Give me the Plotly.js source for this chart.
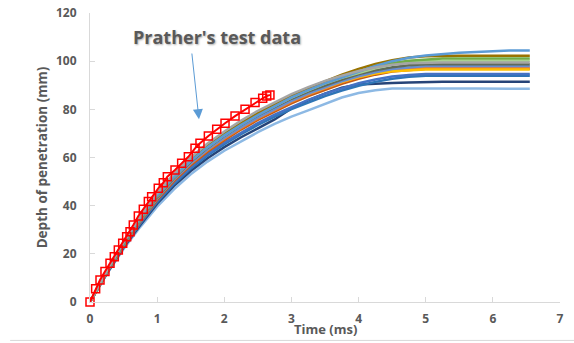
<!DOCTYPE html>
<html>
<head>
<meta charset="utf-8">
<script src="https://cdn.plot.ly/plotly-3.0.1.min.js"></script>
<style>html,body{margin:0;padding:0;background:#fff;}#chart{width:574px;height:343px;}</style>
</head>
<body>
<div id="chart"></div>
<script>
// Time samples (ms) for simulated curves
const simTime = [0, 0.25, 0.5, 0.75, 1, 1.25, 1.5, 1.75, 2, 2.25, 2.5, 2.75, 3, 3.25, 3.5, 3.75, 4, 4.25, 4.5, 4.75, 5, 5.25, 5.5, 5.75, 6, 6.25, 6.55];

// Simulated penetration depth curves (mm)
const simTopBlue   = [0, 12.8, 24.5, 34.8, 44.2, 52, 58.6, 64.3, 69.2, 73.6, 77.6, 81.3, 85, 88, 90.8, 93.2, 95.6, 98, 100, 101.4, 102.4, 103, 103.5, 103.8, 104.2, 104.4, 104.4];
const simDarkGold  = [0, 12.6, 24.2, 34.5, 44, 52, 58.8, 64.6, 69.6, 74.2, 78.3, 82, 85.6, 88.8, 91.7, 94.4, 96.8, 98.8, 100.4, 101.5, 102, 102.3, 102.3, 102.3, 102.3, 102.3, 102.3];
const simGreen     = [0, 12.7, 24.4, 34.8, 44.3, 52.4, 59.3, 65, 69.8, 74.3, 78.4, 82, 85.4, 88.4, 91.2, 93.7, 95.9, 97.7, 99.2, 100.2, 100.8, 101.1, 101.1, 101.1, 101.1, 101.1, 101.1];
const simLightGreen= [0, 12.5, 24, 34.3, 43.8, 51.8, 58.6, 64.3, 69.2, 73.7, 77.8, 81.5, 84.9, 87.9, 90.7, 93.1, 95.2, 97, 98.5, 99.5, 100, 100.2, 100.2, 100.2, 100.2, 100.2, 100.2];
const simGray      = [0, 13, 25, 35.6, 45.2, 53.2, 60, 65.8, 70.8, 75.3, 79.4, 83, 86.3, 89.2, 91.8, 94, 95.9, 97.4, 98.5, 99.1, 99.4, 99.4, 99.4, 99.4, 99.4, 99.4, 99.4];
const simDarkGray  = [0, 12.4, 23.8, 34, 43.4, 51.4, 58.2, 64, 69, 73.5, 77.5, 81.1, 84.4, 87.4, 90, 92.4, 94.5, 96.2, 97.5, 98.3, 98.7, 98.7, 98.7, 98.7, 98.7, 98.7, 98.7];
const simBlueGray  = [0, 12.3, 23.6, 33.7, 43, 50.9, 57.6, 63.3, 68.2, 72.6, 76.6, 80.2, 83.5, 86.5, 89.2, 91.6, 93.7, 95.4, 96.7, 97.5, 98, 98, 98, 98, 98, 98, 98];
const simGold      = [0, 12.5, 24, 34.2, 43.6, 51.5, 58.2, 63.8, 68.6, 73, 76.9, 80.4, 83.6, 86.5, 89.1, 91.4, 93.4, 94.9, 95.8, 96.3, 96.5, 96.5, 96.5, 96.5, 96.5, 96.5, 96.5];
const simOrange    = [0, 12.4, 23.8, 33.8, 43, 50.8, 57.4, 63, 67.8, 72.2, 76.2, 79.8, 83.1, 86.1, 88.8, 91.2, 93.3, 95, 96.3, 97, 97.4, 97.4, 97.4, 97.4, 97.4, 97.4, 97.4];
const simDarkOrange= [0, 12.2, 23.4, 33.3, 42.4, 50.2, 56.8, 62.4, 67.2, 71.6, 75.6, 79.2, 82.5, 85.5, 88.2, 90.6, 92.7, 94.4, 95.7, 96.4, 96.8, 96.8, 96.8, 96.8, 96.8, 96.8, 96.8];
const simBlue      = [0, 12.2, 23.3, 33, 42, 49.6, 56, 61.5, 66.2, 70.4, 74.3, 77.8, 81, 83.9, 86.5, 88.8, 90.8, 92.4, 93.6, 94.3, 94.7, 94.7, 94.7, 94.7, 94.7, 94.7, 94.7];
const simMidBlue   = [0, 12, 23, 32.6, 41.5, 49, 55.4, 60.8, 65.5, 69.7, 73.5, 77, 80.1, 82.9, 85.5, 87.8, 89.8, 91.4, 92.7, 93.5, 93.9, 93.9, 93.9, 93.9, 93.9, 93.9, 93.9];
const simNavy      = [0, 11.8, 22.6, 32, 40.8, 48.2, 54.4, 59.7, 64.3, 68.4, 72.1, 75.8, 80.4, 83.7, 86.5, 89, 90.3, 90.7, 90.9, 91.1, 91.4, 91.5, 91.5, 91.5, 91.5, 91.5, 91.5];
const simBottomBlue= [0, 11.6, 22, 31.2, 39.6, 46.8, 53, 58.3, 62.8, 66.8, 70.5, 74, 77, 79.6, 82.4, 84.9, 86.8, 87.9, 88.6, 88.7, 88.7, 88.7, 88.7, 88.7, 88.5, 88.5, 88.5];

// Prather's test data
const pratherTime  = [0, 0.084, 0.149, 0.223, 0.298, 0.362, 0.422, 0.487, 0.546, 0.596, 0.645, 0.72, 0.794, 0.869, 0.918, 1.017, 1.092, 1.152, 1.266, 1.365, 1.465, 1.564, 1.638, 1.763, 1.887, 2.011, 2.16, 2.309, 2.458, 2.572, 2.632, 2.68];
const pratherDepth = [0, 5.5, 9.1, 12.7, 16.1, 18.8, 21.6, 24.4, 27.1, 29.2, 32.0, 35.7, 38.5, 41.7, 43.7, 47.2, 49.5, 52.0, 54.8, 57.6, 60.3, 63.8, 65.9, 68.9, 71.7, 74.2, 77.2, 80.0, 82.8, 84.6, 85.5, 86.0];

const simSeries = [simBottomBlue, simNavy, simMidBlue, simBlue, simDarkOrange, simOrange, simGold, simBlueGray, simDarkGray, simLightGreen, simGreen, simDarkGold, simTopBlue, simGray];
const simColors = ['#8DB9E4', '#264478', '#2E75B6', '#4472C4', '#C55A11', '#ED7D31', '#FFC000', '#698ED0', '#5F6B5A', '#A9D18E', '#70AD47', '#997300', '#5B9BD5', '#A5A5A5'];

const traces = simSeries.map((ys, i) => ({
  x: simTime, y: ys, type: 'scatter', mode: 'lines',
  line: {color: simColors[i], width: 2.5}, hoverinfo: 'skip', showlegend: false
}));
traces.push({
  x: pratherTime, y: pratherDepth, type: 'scatter', mode: 'lines+markers',
  line: {color: '#FF0000', width: 2}, cliponaxis: false,
  marker: {symbol: 'square-open', size: 8, color: '#FF0000', line: {width: 1.5, color: '#FF0000'}},
  showlegend: false
});

const tickFont = {family: 'Open Sans, sans-serif', size: 12, color: '#595959', weight: 'bold'};
const layout = {
  width: 574, height: 343,
  margin: {l: 90, r: 14, t: 13, b: 41},
  paper_bgcolor: '#ffffff', plot_bgcolor: '#ffffff',
  showlegend: false,
  xaxis: {
    range: [0, 7], dtick: 1, tick0: 0, showgrid: false, zeroline: false,
    showline: true, linecolor: '#D9D9D9', linewidth: 1,
    ticks: 'inside', ticklen: 5, tickcolor: '#D9D9D9',
    tickfont: tickFont, ticklabelstandoff: 6, fixedrange: true
  },
  yaxis: {
    range: [0, 120], dtick: 20, tick0: 0, showgrid: false, zeroline: false,
    showline: true, linecolor: '#D9D9D9', linewidth: 1,
    ticks: 'inside', ticklen: 5, tickcolor: '#D9D9D9',
    tickfont: tickFont, ticklabelstandoff: 10, fixedrange: true,
    title: {text: 'Depth of penetration (mm)', font: {family: 'Open Sans, sans-serif', size: 13.5, color: '#595959', weight: 'bold'}, standoff: 5}
  },
  annotations: [
    {text: 'Time (ms)', xref: 'paper', yref: 'paper', x: 0.5, y: -0.095, xanchor: 'center', yanchor: 'middle',
     showarrow: false, font: {family: 'Open Sans, sans-serif', size: 13, color: '#595959', weight: 'bold'}},
    {text: "Prather's test data", xref: 'x', yref: 'y', x: 1.89, y: 110, xanchor: 'center', yanchor: 'middle',
     showarrow: false, font: {family: 'Open Sans, sans-serif', size: 18, color: '#595959', weight: 'bold', shadow: '1px 1px 2px #b0b0b0'}},
    {text: '', xref: 'x', yref: 'y', x: 1.623, y: 75.9, axref: 'x', ayref: 'y', ax: 1.515, ay: 103.8,
     showarrow: true, arrowhead: 2, arrowsize: 2, arrowwidth: 1, arrowcolor: '#5B9BD5'}
  ],
  shapes: [
    {type: 'line', xref: 'paper', yref: 'paper', x0: -0.17, x1: 1.03, y0: -0.133, y1: -0.133, line: {color: '#D9D9D9', width: 1}}
  ]
};

Plotly.newPlot('chart', traces, layout, {displayModeBar: false, staticPlot: true});
</script>
</body>
</html>
